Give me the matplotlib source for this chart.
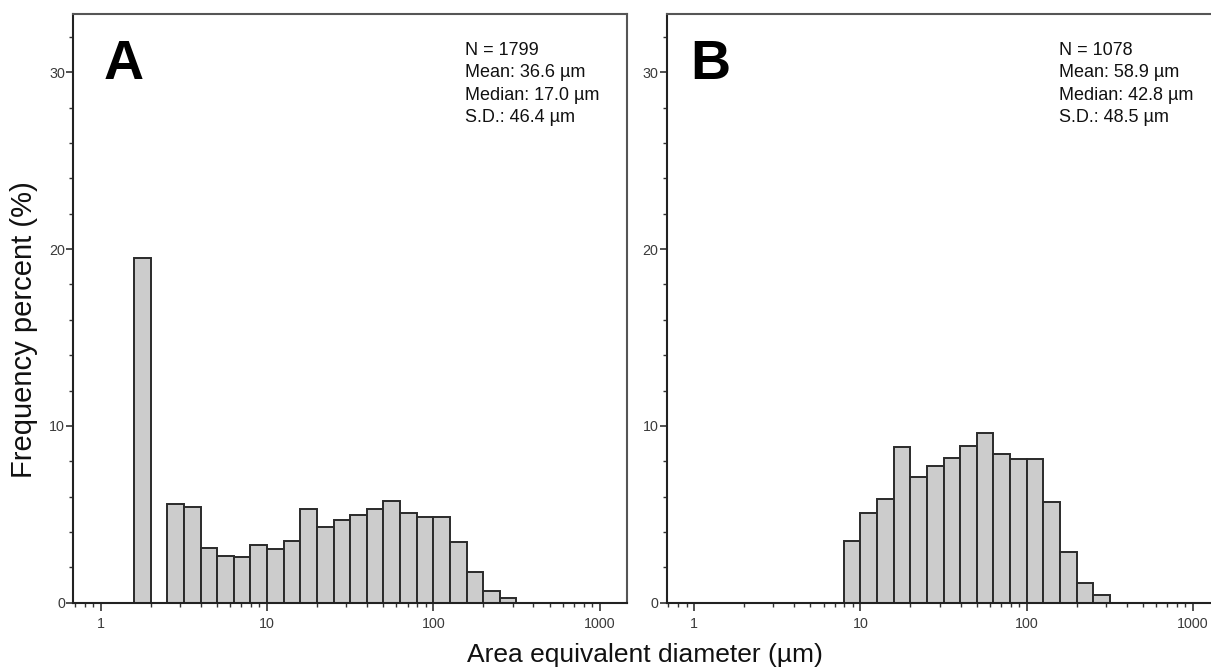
import numpy as np
import matplotlib
matplotlib.use("Agg")
import matplotlib.pyplot as plt
from matplotlib.ticker import LogLocator, MultipleLocator, FixedLocator, NullFormatter

plt.rcParams['font.family'] = ['Liberation Sans', 'DejaVu Sans']

# ---- data ----
# log10 bin edges (0.1-decade bins)
edges_exp_A = [round(0.2 + 0.1 * i, 1) for i in range(24)]   # 0.2 .. 2.5
freq_A = [19.5, 0.0, 5.57, 5.43, 3.11, 2.66, 2.59, 3.27, 3.06, 3.49, 5.28, 4.27,
          4.66, 4.94, 5.32, 5.77, 5.06, 4.87, 4.87, 3.43, 1.72, 0.66, 0.28]
edges_exp_B = [round(0.9 + 0.1 * i, 1) for i in range(17)]   # 0.9 .. 2.5
freq_B = [3.49, 5.07, 5.85, 8.79, 7.13, 7.75, 8.21, 8.86, 9.62, 8.43, 8.13, 8.13,
          5.72, 2.85, 1.09, 0.43]
panel_labels = ["A", "B"]
stats_A = ["N = 1799", "Mean: 36.6 µm", "Median: 17.0 µm", "S.D.: 46.4 µm"]
stats_B = ["N = 1078", "Mean: 58.9 µm", "Median: 42.8 µm", "S.D.: 48.5 µm"]
xticks = [1, 10, 100, 1000]
xticklabels = ["1", "10", "100", "1000"]
yticks = [0, 10, 20, 30]

W, H = 1211, 668
fig = plt.figure(figsize=(W / 100, H / 100), dpi=100)

ax_left_px = [73.3, 666.7]
ax_w_px = 553.4
ax_bottom_px = 602.7
ax_top_px = 14.0
ax_h_px = ax_bottom_px - ax_top_px
label_dx_px = [30.0, 24.0]

def draw(ax, edges_exp, freq, label, stats, label_dx):
    e = 10.0 ** np.array(edges_exp)
    lefts = e[:-1]
    widths = e[1:] - e[:-1]
    ax.bar(lefts, freq, width=widths, align='edge', facecolor='#cccccc',
           edgecolor='#2a2a2a', linewidth=1.4, zorder=2)
    ax.set_xscale('log')
    ax.set_xlim(0.684, 1455)
    ax.set_ylim(0, 33.3)
    ax.xaxis.set_major_locator(FixedLocator(xticks))
    ax.set_xticklabels(xticklabels)
    ax.xaxis.set_minor_locator(LogLocator(base=10, subs=np.arange(2, 10)))
    ax.xaxis.set_minor_formatter(NullFormatter())
    ax.yaxis.set_major_locator(FixedLocator(yticks))
    ax.yaxis.set_minor_locator(MultipleLocator(2))
    for s in ax.spines.values():
        s.set_color('#555555')
        s.set_linewidth(1.5)
    ax.spines['left'].set_color('#222222')
    ax.spines['bottom'].set_color('#222222')
    ax.tick_params(axis='both', which='major', direction='out', length=5,
                   width=1.2, color='#333333', labelsize=10.3, labelcolor='#3a3a3a')
    ax.tick_params(axis='both', which='minor', direction='out', length=3,
                   width=1.0, color='#333333')
    ax.tick_params(axis='x', which='major', length=6, pad=4)
    ax.tick_params(axis='y', which='major', pad=1)
    ax.text(label_dx / ax_w_px, 1 - 25.0 / ax_h_px, label, transform=ax.transAxes,
            fontsize=40, fontweight='bold', ha='left', va='top', color='black')
    for k, line in enumerate(stats):
        ax.text(392.0 / ax_w_px, 1 - (34.5 + 22.4 * k) / ax_h_px, line,
                transform=ax.transAxes, fontsize=13.0, ha='left', va='center_baseline',
                color='#111111')

for i, (edges, freq, lab, st) in enumerate([(edges_exp_A, freq_A, panel_labels[0], stats_A),
                                            (edges_exp_B, freq_B, panel_labels[1], stats_B)]):
    ax = fig.add_axes([ax_left_px[i] / W, (H - ax_bottom_px) / H,
                       ax_w_px / W, ax_h_px / H])
    draw(ax, edges, freq, lab, st, label_dx_px[i])

fig.text(24 / W, 1 - 330 / H, "Frequency percent (%)", rotation=90, fontsize=21,
         ha='center', va='center', color='#111111')
fig.text(645 / W, 1 - 655 / H, "Area equivalent diameter (µm)", fontsize=19,
         ha='center', va='center', color='#111111')

fig.savefig("out.png", dpi=100)
